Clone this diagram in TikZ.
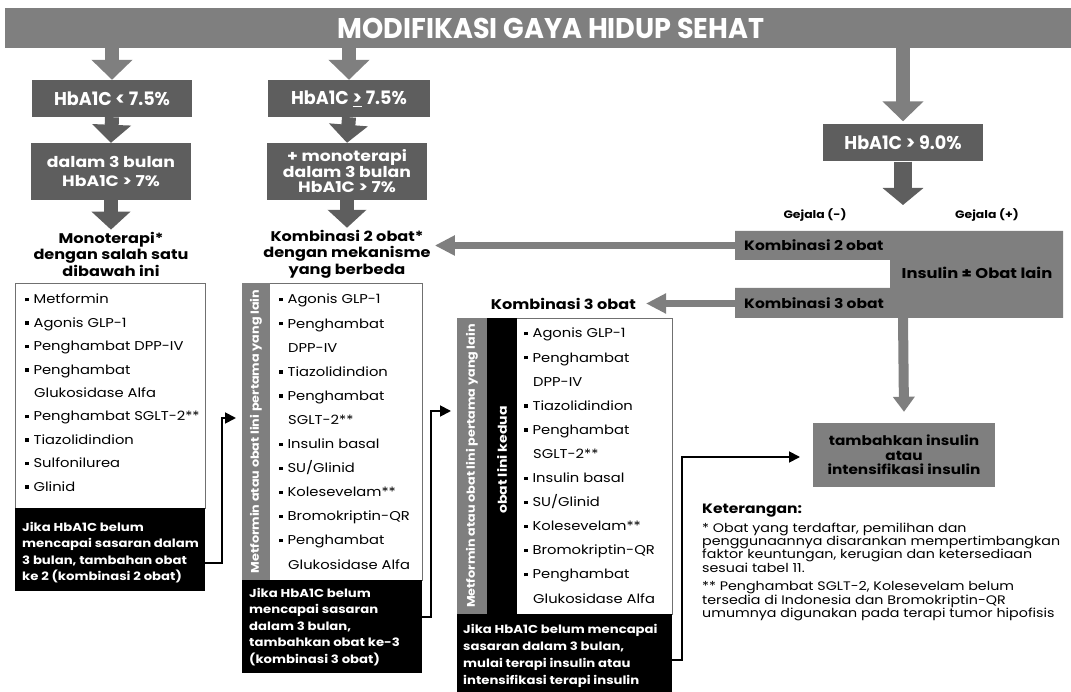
\documentclass[tikz,border=0pt]{standalone}
\usepackage{fontspec}
\setmainfont[FakeStretch=1.15]{Poppins}
\newfontfamily\hdrf[FakeStretch=0.95]{Poppins}
\usetikzlibrary{arrows.meta,fit}
\definecolor{hdrgray}{HTML}{7F7F7F}
\definecolor{dkgray}{HTML}{5E5E5E}
\definecolor{edgegray}{HTML}{707070}
\newcommand\bul{\raisebox{2.6pt}{\rule{3.4pt}{3.4pt}}\hspace{5pt}}
\newcommand\ind{\hspace*{9pt}}
\begin{document}
\begin{tikzpicture}[x=1pt,y=-1pt,
  hdrarrow/.style={draw=hdrgray, line width=14pt, -{Triangle[width=40pt,length=20pt]}},
  dkarrow/.style={draw=dkgray, line width=14pt, -{Triangle[width=38pt,length=18pt]}},
  bigdkarrow/.style={draw=dkgray, line width=18pt, -{Triangle[width=40pt,length=17pt]}},
  grayarrow/.style={draw=hdrgray, line width=7pt, -{Triangle[width=19pt,length=20pt]}},
  vgrayarrow/.style={draw=hdrgray, line width=10pt, -{Triangle[width=21pt,length=15pt]}},
  conn/.style={draw=black, line width=1.8pt, -{Triangle[width=11pt,length=11pt]}},
  hbox/.style={fill=dkgray, text=white, inner sep=0, align=center, font=\hdrf\bfseries\fontsize{18.5}{20}\selectfont},
  qbox/.style={fill=dkgray, text=white, inner sep=0, align=center},
  btxt/.style={inner sep=0, align=center, font=\bfseries\fontsize{14}{16.5}\selectfont},
  frame/.style={draw=edgegray, line width=0.8pt, inner sep=0},
  blk/.style={fill=black, inner sep=0},
  strip/.style={fill=hdrgray, inner sep=0},
  listtxt/.style={inner sep=0, anchor=north west, align=left},
  blktxt/.style={inner sep=0, anchor=north west, align=left, text=white, font=\bfseries\fontsize{11.5}{16.4}\selectfont},
  vtxt/.style={rotate=90, text=white, inner sep=0, font=\bfseries\fontsize{11.1}{12}\selectfont}
]
\useasboundingbox (0,0) rectangle (1071,692);
% header
\node[fill=hdrgray, minimum width=1066pt, minimum height=40pt, inner sep=0, text=white,
      font=\hdrf\bfseries\fontsize{28.5}{28.5}\selectfont] (hdr) at (538,28) {\hspace*{26pt}MODIFIKASI GAYA HIDUP SEHAT};
% first level boxes
\node[hbox, minimum width=160pt, minimum height=37pt] (b1) at (112,98.5) {HbA1C < 7.5\%};
\node[hbox, minimum width=162pt, minimum height=37pt] (b2) at (349,98.5) {HbA1C \underline{>} 7.5\%};
\node[hbox, minimum width=160pt, minimum height=37pt] (b3) at (903,143) {HbA1C > 9.0\%};
\draw[hdrarrow] (hdr.south -| b1.north) -- (b1.north);
\draw[hdrarrow] (hdr.south -| b2.north) -- (b2.north);
\draw[hdrarrow] (hdr.south -| b3.north) -- ([yshift=3pt]b3.north);
% second level
\node[qbox, minimum width=160pt, minimum height=57pt, font=\bfseries\fontsize{15}{19}\selectfont] (c1) at (111,171.5) {dalam 3 bulan\\HbA1C > 7\%};
\node[qbox, minimum width=160pt, minimum height=57pt, font=\bfseries\fontsize{15}{15.5}\selectfont] (c2) at (347,171.5) {+ monoterapi\\dalam 3 bulan\\HbA1C > 7\%};
\draw[dkarrow] (b1.south) -- (c1.north);
\draw[dkarrow] (b2.south) -- (c2.north);
% headings
\node[btxt] (t1) at (111,254) {Monoterapi*\\dengan salah satu\\dibawah ini};
\node[btxt] (t2) at (347,254) {Kombinasi 2 obat*\\dengan mekanisme\\yang berbeda};
\node[btxt, anchor=east] (t3) at (636,304) {Kombinasi 3 obat};
\draw[dkarrow] (c1.south) -- ([yshift=2pt]t1.north);
\draw[dkarrow] (c2.south) -- ([yshift=2pt]t2.north);
% ---------- list 1
\node[frame, fit={(15,283)(205,508)}] (l1box) {};
\node[blk, fit={(15,508)(205,591)}] (l1blk) {};
\node[listtxt, font=\fontsize{12.8}{23.4}\selectfont] (l1txt) at (25,294) {\bul Metformin\\\bul Agonis GLP-1\\\bul Penghambat DPP-IV\\\bul Penghambat\\\ind Glukosidase Alfa\\\bul Penghambat SGLT-2**\\\bul Tiazolidindion\\\bul Sulfonilurea\\\bul Glinid};
\node[blktxt] (l1bt) at (22,522) {Jika HbA1C belum\\mencapai sasaran dalam\\3 bulan, tambahan obat\\ke 2 (kombinasi 2 obat)};
% ---------- list 2
\node[frame, fit={(242,283)(422,580)}] (l2box) {};
\node[strip, fit={(242,283)(270,580)}] (l2strip) {};
\node[vtxt] (l2v) at (l2strip.center) {Metformin atau obat lini pertama yang lain};
\node[blk, fit={(242,580)(422,673)}] (l2blk) {};
\node[listtxt, font=\fontsize{12.8}{24.1}\selectfont] (l2txt) at (279,294) {\bul Agonis GLP-1\\\bul Penghambat\\\ind DPP-IV\\\bul Tiazolidindion\\\bul Penghambat\\\ind SGLT-2**\\\bul Insulin basal\\\bul SU/Glinid\\\bul Kolesevelam**\\\bul Bromokriptin-QR\\\bul Penghambat\\\ind Glukosidase Alfa};
\node[blktxt] (l2bt) at (249,588) {Jika HbA1C belum\\mencapai sasaran\\dalam 3 bulan,\\tambahkan obat ke-3\\(kombinasi 3 obat)};
% ---------- list 3
\node[frame, fit={(457,318)(672,614)}] (l3box) {};
\node[strip, fit={(457,318)(487,614)}] (l3strip) {};
\node[blk, fit={(487,318)(517,614)}] (l3strip2) {};
\node[vtxt] (l3v) at (l3strip.center) {Metformin atau obat lini pertama yang lain};
\node[vtxt, font=\bfseries\fontsize{12.2}{13}\selectfont] (l3v2) at ([yshift=6pt]l3strip2.center) {obat lini kedua};
\node[blk, fit={(457,614)(672,692)}] (l3blk) {};
\node[listtxt, font=\fontsize{12.8}{24.1}\selectfont] (l3txt) at (524,328) {\bul Agonis GLP-1\\\bul Penghambat\\\ind DPP-IV\\\bul Tiazolidindion\\\bul Penghambat\\\ind SGLT-2**\\\bul Insulin basal\\\bul SU/Glinid\\\bul Kolesevelam**\\\bul Bromokriptin-QR\\\bul Penghambat\\\ind Glukosidase Alfa};
\node[blktxt, font=\bfseries\fontsize{11.5}{17}\selectfont] (l3bt) at (463,624) {Jika HbA1C belum mencapai\\sasaran dalam 3 bulan,\\mulai terapi insulin atau\\intensifikasi terapi insulin};
% ---------- right block
\coordinate (g0) at (903,205);
\draw[bigdkarrow] (b3.south) -- (g0);
\node[font=\bfseries\fontsize{10.8}{13}\selectfont, inner sep=0] (gm) at (815,215) {Gejala (-)};
\node[font=\bfseries\fontsize{10.8}{13}\selectfont, inner sep=0] (gp) at (987,215) {Gejala (+)};
\fill[hdrgray] (735,231) -- (1063,231) -- (1063,318) -- (735,318) -- (735,288) -- (890,288) -- (890,260) -- (735,260) -- cycle;
\node[inner sep=0, anchor=west, font=\bfseries\fontsize{13.5}{15}\selectfont] (k2o) at (744,245.5) {Kombinasi 2 obat};
\node[inner sep=0, anchor=west, font=\bfseries\fontsize{13.5}{15}\selectfont] (k3o) at (744,303) {Kombinasi 3 obat};
\node[inner sep=0, font=\bfseries\fontsize{14.2}{15}\selectfont] (ins) at (977,273) {Insulin ± Obat lain};
\coordinate (blockbottom) at (903,318);
\coordinate (k2start) at (735,245.5);
\coordinate (k3start) at (735,303.5);
\draw[grayarrow] (k2start) -- ([xshift=4pt]t2.east |- k2start);
\draw[grayarrow] (k3start) -- ([xshift=10pt]t3.east |- k3start);
\node[fill=hdrgray, minimum width=182pt, minimum height=64pt, inner sep=0, align=center,
      font=\bfseries\fontsize{13.3}{14.5}\selectfont] (tam) at (904,455) {tambahkan insulin\\atau\\intensifikasi insulin};
\draw[vgrayarrow] (blockbottom) -- ([yshift=11pt]tam.north);
% ---------- connectors
\coordinate (k1end) at (236,418);
\coordinate (k2end) at (451,411);
\coordinate (k3end) at (800,457);
\draw[conn] ([yshift=-13.5pt]l1blk.east) -- ++(17,0) |- (k1end);
\draw[conn] ([yshift=9.5pt]l2blk.east) -- ++(9,0) |- (k2end);
\draw[conn] ([yshift=-7pt]l3blk.east) -- ++(10,0) |- (k3end);
% ---------- notes
\node[inner sep=0, anchor=north west, align=left, font=\fontsize{12.4}{13.4}\selectfont] (notes) at (702,504)
 {{\bfseries\fontsize{13.5}{15}\selectfont Keterangan:}\\[5pt]
  * Obat yang terdaftar, pemilihan dan\\
  penggunaannya disarankan mempertimbangkan\\
  faktor keuntungan, kerugian dan ketersediaan\\
  sesuai tabel 11.\\[5pt]
  ** Penghambat SGLT-2, Kolesevelam belum\\
  tersedia di Indonesia dan Bromokriptin-QR\\
  umumnya digunakan pada terapi tumor hipofisis};
\end{tikzpicture}
\end{document}
